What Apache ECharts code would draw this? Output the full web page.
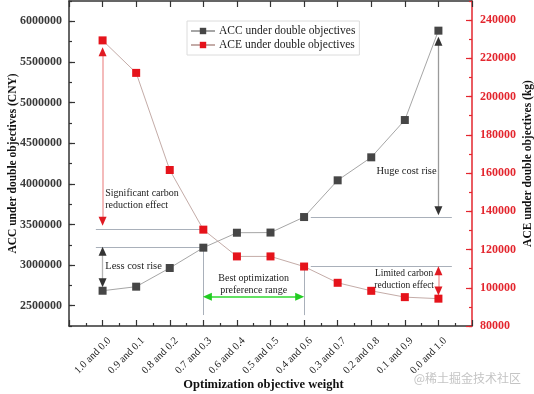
<!DOCTYPE html>
<html><head><meta charset="utf-8">
<script src="https://cdn.jsdelivr.net/npm/echarts@6/dist/echarts.min.js"></script>
<style>html,body{margin:0;padding:0;background:#fff}#c{width:534px;height:394px}</style>
</head><body><div id="c"></div>
<script>
const categories = ['1.0 and 0.0','0.9 and 0.1','0.8 and 0.2','0.7 and 0.3','0.6 and 0.4','0.5 and 0.5','0.4 and 0.6','0.3 and 0.7','0.2 and 0.8','0.1 and 0.9','0.0 and 1.0'];
const accValues = [2684000, 2734000, 2964000, 3214000, 3398000, 3400000, 3591000, 4043000, 4326000, 4785000, 5885000];
const aceValues = [229400, 212400, 161600, 130400, 116400, 116400, 111100, 102600, 98400, 95100, 94300];
const accTicks = [2500000, 3000000, 3500000, 4000000, 4500000, 5000000, 5500000, 6000000];
const aceTicks = [80000, 100000, 120000, 140000, 160000, 180000, 200000, 220000, 240000];

const SERIF = "'Liberation Serif','Times New Roman',serif";
const DARK = '#333';
const RED = '#e3262e';
const GREYLINE = '#a9b0ba';

function arrowPair(x1, y1, x2, y2, lineColor, headColor, w) {
  return [
    [{coord:[x1,y1], symbol:'none', lineStyle:{color:lineColor, width:w, type:'solid'}}, {coord:[x2,y2], symbol:'none'}],
    [{coord:[x1,y1], symbol:'triangle', symbolSize:[8,9], lineStyle:{color:headColor, width:0}}, {coord:[x2,y2], symbol:'triangle', symbolSize:[8,9]}]
  ];
}
function plain(x1, y1, x2, y2) {
  return [{coord:[x1,y1], symbol:'none', lineStyle:{color:GREYLINE, width:1, type:'solid'}}, {coord:[x2,y2], symbol:'none'}];
}
function note(x, y, text, align, size) {
  return {coord:[x,y], symbol:'circle', symbolSize:1, itemStyle:{color:'rgba(0,0,0,0)'},
    label:{show:true, position:'inside', align:align, verticalAlign:'middle', formatter:text,
      fontFamily:SERIF, fontSize:size, lineHeight:12, color:'#222'}};
}

const accData = categories.map((c, i) => [i, accValues[i]]);
const aceData = categories.map((c, i) => [i, aceValues[i]]);

const accLines = [].concat(
  [plain(-0.2, accValues[3], 3, accValues[3])],
  [plain(3, accValues[3], 3, 2385000)],
  [plain(6.2, accValues[6], 10.4, accValues[6])],
  arrowPair(0, 3169000, 0, 2783000, '#b5b5b5', DARK, 1.3),
  arrowPair(10, 5754000, 10, 3669000, '#9a9a9a', DARK, 1.3)
);
const aceLines = [].concat(
  [plain(-0.2, aceValues[3], 3, aceValues[3])],
  [plain(6, aceValues[6], 6, 85700)],
  [plain(6.2, aceValues[6], 10.4, aceValues[6])],
  arrowPair(0, 223500, 0, 134800, '#f2aaaa', '#e01a22', 1.6),
  arrowPair(10, 108860, 10, 98260, '#f2aaaa', '#e01a22', 1.6),
  arrowPair(3.12, 95300, 5.87, 95300, '#2fd82f', '#22cc22', 1.6)
);

const chart = echarts.init(document.getElementById('c'), null, {renderer:'canvas'});
chart.setOption({
  animation:false,
  backgroundColor:'#fff',
  grid:{left:69, right:62, top:1, bottom:68, containLabel:false, outerBoundsMode:'none'},
  legend:{
    left:187, top:21, orient:'vertical', itemGap:2, itemWidth:24, itemHeight:8,
    padding:[4,4,4,3], borderColor:'#dcdcdc', borderWidth:1,
    textStyle:{fontFamily:SERIF, fontSize:11.5, color:'#222', padding:[0,0,0,-1]},
    data:['ACC under double objectives','ACE under double objectives']
  },
  xAxis:[{
    type:'value', min:-1, max:11, interval:1, position:'bottom',
    name:'Optimization objective weight', nameLocation:'middle', nameGap:52, nameMoveOverlap:false,
    nameTextStyle:{fontFamily:SERIF, fontSize:12.5, fontWeight:'bold', color:'#111', padding:[0,14,0,0]},
    axisLine:{show:true, onZero:false, lineStyle:{color:DARK, width:1.5}},
    axisTick:{show:true, inside:true, length:6, lineStyle:{color:DARK, width:1.2}},
    minorTick:{show:true, splitNumber:2, length:3, lineStyle:{color:DARK, width:1.2}},
    splitLine:{show:false},
    axisLabel:{rotate:45, margin:6.5, verticalAlign:'top', padding:[4,0,0,0],
      fontFamily:SERIF, fontSize:10.5, color:'#222',
      formatter:v => (categories[v] !== undefined ? categories[v] : '')}
  },{
    type:'value', min:-1, max:11, interval:1, position:'top',
    axisLine:{show:true, onZero:false, lineStyle:{color:DARK, width:1.5}},
    axisTick:{show:true, inside:true, length:6, lineStyle:{color:DARK, width:1.2}},
    splitLine:{show:false}, axisLabel:{show:false}
  }],
  yAxis:[{
    type:'value', min:2250000, max:6250000, interval:250000, position:'left',
    name:'ACC under double objectives (CNY)', nameLocation:'middle', nameGap:50, nameRotate:90, nameMoveOverlap:false,
    nameTextStyle:{fontFamily:SERIF, fontSize:11.5, fontWeight:'bold', color:'#111'},
    axisLine:{show:true, onZero:false, lineStyle:{color:DARK, width:1.5}},
    axisTick:{show:true, inside:true, length:6, customValues:accTicks, lineStyle:{color:DARK, width:1.2}},
    splitLine:{show:false},
    axisLabel:{margin:7, fontFamily:SERIF, fontSize:12, fontWeight:'bold', color:'#3a3a3a',
      customValues:accTicks, formatter:v => (accTicks.indexOf(v) >= 0 ? String(v) : '')}
  },{
    type:'value', min:80000, max:250000, interval:10000, position:'right',
    name:'ACE under double objectives (kg)', nameLocation:'middle', nameGap:50, nameRotate:90, nameMoveOverlap:false,
    nameTextStyle:{fontFamily:SERIF, fontSize:11.5, fontWeight:'bold', color:'#111'},
    axisLine:{show:true, onZero:false, lineStyle:{color:RED, width:1.5}},
    axisTick:{show:true, inside:true, length:6, customValues:aceTicks, lineStyle:{color:RED, width:1.2}},
    splitLine:{show:false},
    axisLabel:{margin:8, fontFamily:SERIF, fontSize:12, fontWeight:'bold', color:RED,
      customValues:aceTicks, formatter:v => (aceTicks.indexOf(v) >= 0 ? String(v) : '')}
  },{
    type:'value', min:2250000, max:6250000, interval:250000, position:'left',
    axisLine:{show:false, onZero:false}, axisLabel:{show:false}, splitLine:{show:false},
    axisTick:{show:true, inside:true, length:3, lineStyle:{color:DARK, width:1.2}}
  },{
    type:'value', min:80000, max:250000, interval:10000, position:'right',
    axisLine:{show:false, onZero:false}, axisLabel:{show:false}, splitLine:{show:false},
    axisTick:{show:true, inside:true, length:3, lineStyle:{color:RED, width:1.2}}
  }],
  series:[{
    name:'ACC under double objectives', type:'line', xAxisIndex:0, yAxisIndex:0,
    data:accData, symbol:'rect', symbolSize:8, z:5,
    itemStyle:{color:'#464646'}, lineStyle:{color:'#a6a6a6', width:1},
    markLine:{silent:true, animation:false, label:{show:false}, z:3, data:accLines},
    markPoint:{silent:true, animation:false, data:[
      note(0.08, 3804000, 'Significant carbon\nreduction effect', 'left', 10),
      note(0.08, 2980000, 'Less cost rise', 'left', 10.5),
      note(9.05, 4158000, 'Huge cost rise', 'center', 10.5)
    ]}
  },{
    name:'ACE under double objectives', type:'line', xAxisIndex:0, yAxisIndex:1,
    data:aceData, symbol:'rect', symbolSize:8, z:5,
    itemStyle:{color:'#e5131b'}, lineStyle:{color:'#c4aca8', width:1},
    markLine:{silent:true, animation:false, label:{show:false}, z:3, data:aceLines},
    markPoint:{silent:true, animation:false, data:[
      note(4.5, 101550, 'Best optimization\npreference range', 'center', 10),
      note(8.98, 104260, 'Limited carbon\nreduction effect', 'center', 9.5)
    ]}
  }],
  graphic:[{
    type:'text', right:13, bottom:10,
    style:{text:'@稀土掘金技术社区', font:"12px 'Noto Sans CJK SC', sans-serif", fill:'#c4c4c4'}
  }]
});
</script></body></html>
